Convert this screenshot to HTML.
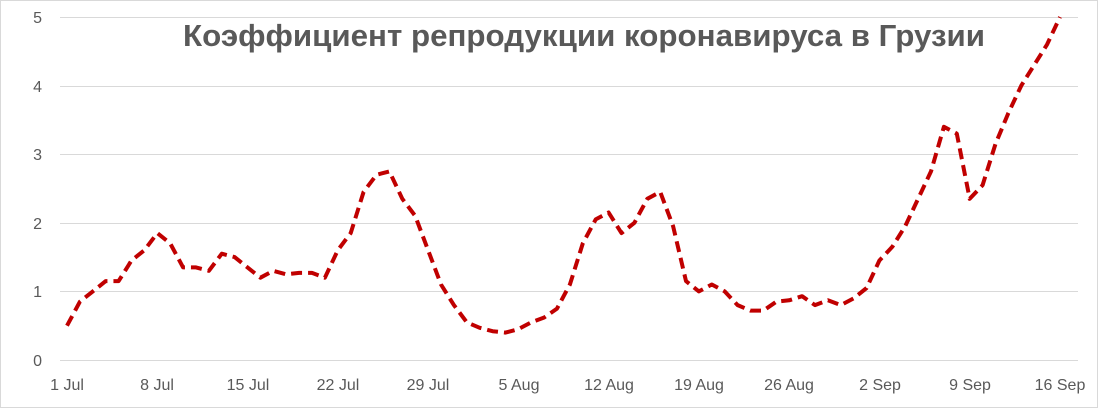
<!DOCTYPE html>
<html><head><meta charset="utf-8"><style>
body{margin:0;background:#fff}
svg{display:block}
text{font-family:"Liberation Sans",sans-serif}
</style></head><body>
<svg width="1098" height="408" viewBox="0 0 1098 408" xmlns="http://www.w3.org/2000/svg">
<rect x="0.5" y="0.5" width="1097" height="407" fill="#fff" stroke="#d9d9d9"/>
<g stroke="#d9d9d9" stroke-width="1">
<line x1="60" y1="360.5" x2="1078" y2="360.5"/>
<line x1="60" y1="291.5" x2="1078" y2="291.5"/>
<line x1="60" y1="223.5" x2="1078" y2="223.5"/>
<line x1="60" y1="154.5" x2="1078" y2="154.5"/>
<line x1="60" y1="86.5" x2="1078" y2="86.5"/>
<line x1="60" y1="17.5" x2="1078" y2="17.5"/>
</g>
<g fill="#595959" font-size="16" text-anchor="end">
<text x="42" y="366">0</text><text x="42" y="297">1</text><text x="42" y="229">2</text>
<text x="42" y="160">3</text><text x="42" y="92">4</text><text x="42" y="23">5</text>
</g>
<g fill="#595959" font-size="16" text-anchor="middle">
<text x="67" y="390">1 Jul</text><text x="157" y="390">8 Jul</text><text x="248" y="390">15 Jul</text>
<text x="338" y="390">22 Jul</text><text x="428" y="390">29 Jul</text><text x="519" y="390">5 Aug</text>
<text x="609" y="390">12 Aug</text><text x="699" y="390">19 Aug</text><text x="789" y="390">26 Aug</text>
<text x="880" y="390">2 Sep</text><text x="970" y="390">9 Sep</text><text x="1060" y="390">16 Sep</text>
</g>
<text x="183" y="46" textLength="802" lengthAdjust="spacingAndGlyphs" font-size="31" font-weight="bold" fill="#595959">Коэффициент репродукции коронавируса в Грузии</text>
<polyline id="l" fill="none" stroke="#C00000" stroke-width="4" stroke-dasharray="11,6" stroke-linejoin="round" points=""/>
<script>
var v=[0.5,0.85,1.0,1.15,1.15,1.45,1.6,1.85,1.7,1.35,1.35,1.3,1.55,1.5,1.35,1.2,1.3,1.25,1.27,1.27,1.2,1.6,1.85,2.45,2.7,2.75,2.35,2.1,1.6,1.1,0.8,0.55,0.47,0.42,0.4,0.45,0.55,0.62,0.75,1.1,1.7,2.05,2.15,1.85,2.0,2.35,2.45,1.95,1.15,1.0,1.1,1.0,0.8,0.72,0.72,0.85,0.87,0.93,0.8,0.87,0.8,0.9,1.05,1.45,1.65,1.95,2.35,2.75,3.4,3.3,2.35,2.55,3.15,3.6,4.0,4.3,4.6,5.0];
var p=v.map(function(y,i){return (67+i*12.896).toFixed(1)+","+(360-y*68.6).toFixed(1)}).join(" ");
document.getElementById("l").setAttribute("points",p);
</script>
</svg>
</body></html>
